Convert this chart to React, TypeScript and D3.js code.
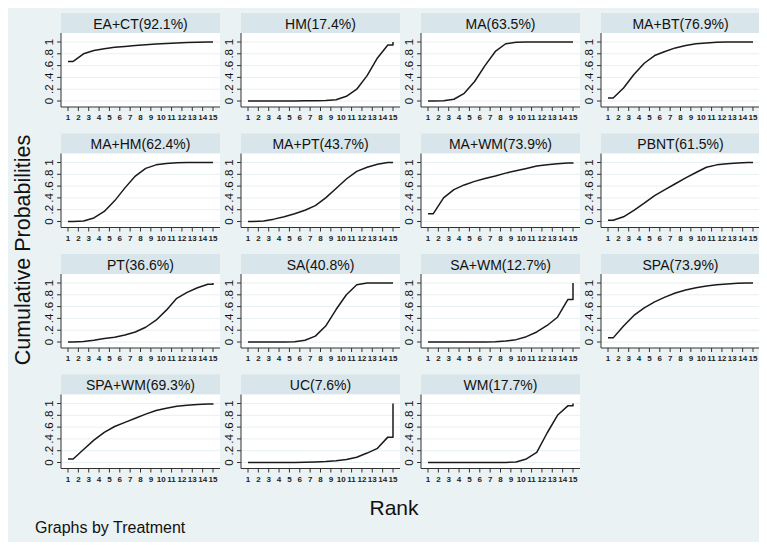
import React from 'react';
import * as d3 from 'd3';

// cumulative ranking probabilities, rank 1..15
const ranks = [1, 2, 3, 4, 5, 6, 7, 8, 9, 10, 11, 12, 13, 14, 15];
const treatments = ['EA+CT', 'HM', 'MA', 'MA+BT', 'MA+HM', 'MA+PT', 'MA+WM', 'PBNT', 'PT', 'SA', 'SA+WM', 'SPA', 'SPA+WM', 'UC', 'WM'];
const sucra = [92.1, 17.4, 63.5, 76.9, 62.4, 43.7, 73.9, 61.5, 36.6, 40.8, 12.7, 73.9, 69.3, 7.6, 17.7];

const eaCt = [0.67, 0.8, 0.855, 0.885, 0.91, 0.925, 0.94, 0.955, 0.965, 0.975, 0.985, 0.99, 0.995, 1, 1];
const hm = [0, 0, 0, 0, 0, 0.003, 0.005, 0.01, 0.02, 0.08, 0.2, 0.43, 0.73, 0.95, 1];
const ma = [0, 0.005, 0.03, 0.13, 0.33, 0.6, 0.84, 0.97, 0.995, 1, 1, 1, 1, 1, 1];
const maBt = [0.05, 0.22, 0.45, 0.64, 0.77, 0.84, 0.9, 0.94, 0.97, 0.985, 0.995, 1, 1, 1, 1];
const maHm = [0, 0.01, 0.06, 0.17, 0.35, 0.57, 0.77, 0.9, 0.96, 0.985, 0.995, 1, 1, 1, 1];
const maPt = [0, 0.01, 0.04, 0.08, 0.13, 0.19, 0.27, 0.4, 0.56, 0.72, 0.85, 0.92, 0.97, 1, 1];
const maWm = [0.13, 0.4, 0.54, 0.62, 0.68, 0.73, 0.77, 0.82, 0.86, 0.9, 0.94, 0.96, 0.98, 0.99, 1];
const pbnt = [0.02, 0.08, 0.19, 0.31, 0.44, 0.54, 0.64, 0.74, 0.83, 0.92, 0.96, 0.98, 0.99, 1, 1];
const pt = [0, 0.01, 0.03, 0.06, 0.08, 0.12, 0.17, 0.25, 0.37, 0.54, 0.74, 0.84, 0.92, 0.98, 1];
const sa = [0, 0, 0, 0, 0.005, 0.03, 0.1, 0.27, 0.55, 0.8, 0.97, 1, 1, 1, 1];
const saWm = [0, 0, 0, 0, 0, 0, 0.005, 0.015, 0.04, 0.09, 0.17, 0.28, 0.42, 0.72, 1];
const spa = [0.07, 0.27, 0.45, 0.58, 0.68, 0.76, 0.83, 0.88, 0.92, 0.95, 0.97, 0.985, 0.995, 1, 1];
const spaWm = [0.06, 0.22, 0.38, 0.51, 0.61, 0.68, 0.75, 0.82, 0.88, 0.92, 0.955, 0.97, 0.985, 0.99, 1];
const uc = [0, 0, 0, 0, 0, 0.003, 0.008, 0.015, 0.03, 0.05, 0.09, 0.16, 0.24, 0.43, 1];
const wm = [0, 0, 0, 0, 0, 0, 0, 0, 0.01, 0.06, 0.17, 0.5, 0.8, 0.96, 1];

const series = [eaCt, hm, ma, maBt, maHm, maPt, maWm, pbnt, pt, sa, saWm, spa, spaWm, uc, wm];

const yTicks = [0, 0.2, 0.4, 0.6, 0.8, 1];
const yTickLabels = ['0', '.2', '.4', '.6', '.8', '1'];

const W = 767;
const H = 550;
const font = '"Liberation Sans", Arial, sans-serif';

// panel geometry
const colX0 = 61;
const colStep = 180;
const panelW = 159;
const headerTop0 = 13;
const rowStep = 120.5;
const headerH = 20;

// stata-like line: flat first half step, points at k+0.5, flat last half step, jump at 15
function linePoints(c: number[]): [number, number][] {
  const n = ranks.length;
  const pts: [number, number][] = [[ranks[0], c[0]]];
  for (let i = 0; i < n - 1; i++) pts.push([ranks[i] + 0.5, c[i]]);
  pts.push([ranks[n - 1], c[n - 2]]);
  pts.push([ranks[n - 1], c[n - 1]]);
  return pts;
}

function Panel({ idx }: { idx: number }) {
  const col = idx % 4;
  const row = Math.floor(idx / 4);
  const ax = colX0 + col * colStep;
  const hTop = headerTop0 + row * rowStep;
  const top = hTop + headerH;
  const y1 = top + 9;
  const y0 = y1 + 59;
  const bottom = y0 + 6;

  const x = d3.scaleLinear().domain([1, 15]).range([ax + 7, ax + 152]);
  const y = d3.scaleLinear().domain([0, 1]).range([y0, y1]);
  const line = d3.line<[number, number]>().x(d => x(d[0])).y(d => y(d[1]));

  return (
    <g>
      <rect x={ax} y={hTop} width={panelW} height={headerH} fill="#d8e5ea" />
      <text x={ax + panelW / 2} y={hTop + headerH / 2 + 0.5} textAnchor="middle" dominantBaseline="central"
        fontSize={14} fontFamily={font} fill="#111">
        {`${treatments[idx]}(${sucra[idx]}%)`}
      </text>
      <rect x={ax} y={top} width={panelW} height={bottom - top} fill="#ffffff" />
      {yTicks.map(t => (
        <line key={t} x1={ax} x2={ax + panelW} y1={y(t)} y2={y(t)} stroke="#e8f0f2" strokeWidth={1} />
      ))}
      <path d={line(linePoints(series[idx])) || ''} fill="none" stroke="#1a1a1a" strokeWidth={1.5} strokeLinejoin="round" />
      <line x1={ax} x2={ax} y1={top} y2={bottom} stroke="#333" strokeWidth={1} />
      <line x1={ax} x2={ax + panelW} y1={bottom} y2={bottom} stroke="#333" strokeWidth={1} />
      {yTicks.map((t, i) => (
        <g key={t}>
          <line x1={ax - 4} x2={ax} y1={y(t)} y2={y(t)} stroke="#333" strokeWidth={1} />
          <text transform={`translate(${ax - 12.5},${y(t)}) rotate(-90)`} textAnchor="middle" dominantBaseline="central"
            fontSize={11.5} fontFamily={font} fill="#111">
            {yTickLabels[i]}
          </text>
        </g>
      ))}
      {ranks.map(r => (
        <g key={r}>
          <line x1={x(r)} x2={x(r)} y1={bottom} y2={bottom + 4} stroke="#333" strokeWidth={1} />
          <text x={x(r)} y={bottom + 10.5} textAnchor="middle" dominantBaseline="central"
            fontSize={8} fontWeight="bold" fontFamily={font} fill="#222">
            {r}
          </text>
        </g>
      ))}
    </g>
  );
}

export default function App() {
  return (
    <svg width={W} height={H} style={{ display: 'block', margin: -8 }}>
      <rect x={0} y={0} width={W} height={H} fill="#ffffff" />
      <rect x={2} y={3} width={762} height={544} fill="#eaf2f3" />
      {treatments.map((_, i) => <Panel key={i} idx={i} />)}
      <text transform={`translate(23,250) rotate(-90)`} textAnchor="middle" dominantBaseline="central"
        fontSize={21.5} fontFamily={font} fill="#111">
        Cumulative Probabilities
      </text>
      <text x={394} y={515} textAnchor="middle" fontSize={21} fontFamily={font} fill="#111">Rank</text>
      <text x={35} y={533} fontSize={16} fontFamily={font} fill="#111">Graphs by Treatment</text>
    </svg>
  );
}
